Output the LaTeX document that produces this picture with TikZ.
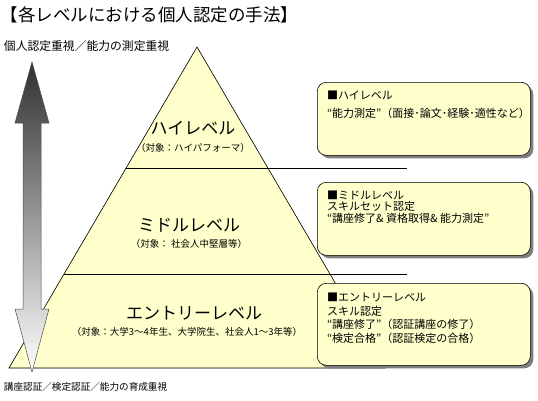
\documentclass[tikz,border=0pt]{standalone}
\usepackage{fontspec}
\newfontfamily\jp{Noto Sans CJK JP}
\usetikzlibrary{shadows}
\definecolor{boxfill}{HTML}{FFFFCC}
\definecolor{shadowgray}{HTML}{7F7F7F}
\definecolor{arrowtop}{HTML}{303030}
\begin{document}
\begin{tikzpicture}[x=1pt,y=-1pt,
  fs/.style={font=\jp\fontsize{#1}{#1}\selectfont},
  txt/.style={inner sep=0pt, outer sep=0pt},
  infobox/.style={draw=black, line width=0.6pt, fill=boxfill, rounded corners=9pt,
    anchor=north west, inner sep=0pt, minimum width=213pt,
    drop shadow={shadow xshift=3pt, shadow yshift=-3pt, fill=shadowgray, opacity=1}},
  divider/.style={draw=black, line width=0.7pt},
  boxtext/.style={txt, fs=11, anchor=base west},
]
\useasboundingbox (0,0) rectangle (538,400);
\fill[white] (0,0) rectangle (538,400);

% title
\node[txt, fs=17.5, anchor=west] (title) at (1,15) {【各レベルにおける個人認定の手法】};

% pyramid
\coordinate (apex) at (197,47);
\coordinate (bl) at (9,368);
\coordinate (br) at (385,368);
\fill[shadowgray, shift={(4,4)}] (apex) -- (br) -- (bl) -- cycle;
\draw[fill=boxfill, line width=0.6pt] (apex) -- (br) -- (bl) -- cycle;

% dividers
\coordinate (l1a) at (126,168);
\coordinate (l1b) at (407,168);
\coordinate (l2a) at (64,274);
\coordinate (l2b) at (407,274);
\draw[divider] (l1a) -- (l1b);
\draw[divider] (l2a) -- (l2b);

% pyramid labels
\node[txt, fs=17] (hl) at (193,128) {ハイレベル};
\node[txt, fs=9.5] (hls) at (193,148) {（対象：ハイパフォーマ）};
\node[txt, fs=17] (ml) at (189,225) {ミドルレベル};
\node[txt, fs=9.5] (mls) at (189,244) {（対象： 社会人中堅層等）};
\node[txt, fs=17] (el) at (194,313) {エントリーレベル};
\node[txt, fs=9.5] (els) at (187,332) {（対象：大学3～4年生、大学院生、社会人1～3年等）};

% double arrow
\shade[top color=arrowtop, bottom color=white, draw=black!70, line width=0.5pt]
  (32,62) -- (49,123) -- (41,123) -- (41,309) -- (49,309) -- (32,372)
  -- (15,309) -- (23,309) -- (23,123) -- (15,123) -- cycle;

% side labels
\node[txt, fs=11.8, anchor=west] (toplabel) at (4,46) {個人認定重視／能力の測定重視};
\node[txt, fs=9.6, anchor=west] (botlabel) at (4,387) {講座認証／検定認証／能力の育成重視};

% info boxes
\node[infobox, minimum height=73pt] (box1) at (317,82) {};
\node[infobox, minimum height=73pt] (box2) at (317,182) {};
\node[infobox, minimum height=82pt] (box3) at (317,283) {};

\node[boxtext] (b1a) at (327,99) {■ハイレベル};
\node[boxtext] (b1b) at (327,117) {“能力測定”（面接･論文･経験･適性など）};

\node[boxtext] (b2a) at (327,199) {■ミドルレベル};
\node[boxtext] (b2b) at (327,210.5) {スキルセット認定};
\node[boxtext] (b2c) at (327,222) {“講座修了\&{} 資格取得\&{} 能力測定”};

\node[boxtext] (b3a) at (327,301) {■エントリーレベル};
\node[boxtext] (b3b) at (327,315) {スキル認定};
\node[boxtext] (b3c) at (327,328) {“講座修了”（認証講座の修了）};
\node[boxtext] (b3d) at (327,342) {“検定合格”（認証検定の合格）};
\end{tikzpicture}
\end{document}
